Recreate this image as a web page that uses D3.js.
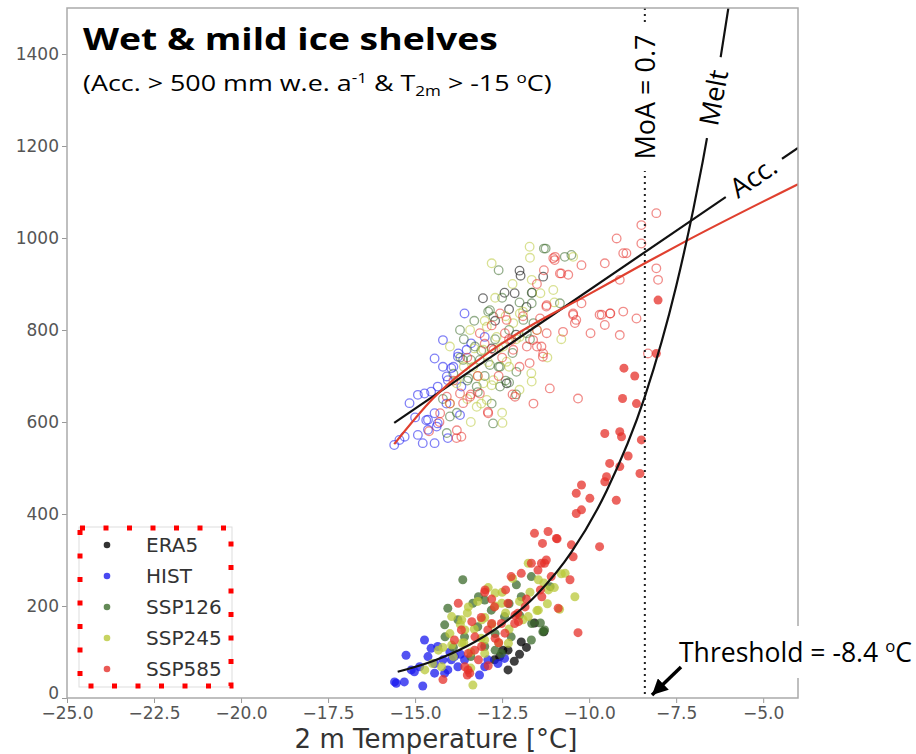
<!DOCTYPE html>
<html>
<head>
<meta charset="utf-8">
<script src="https://cdn.jsdelivr.net/npm/d3@7"></script>
<style>
  body { margin: 0; background: #fff; }
  svg { display: block; }
</style>
</head>
<body>
<svg id="chart" width="916" height="754"></svg>
<script>
// axis ticks
const xTicks = [-25, -22.5, -20, -17.5, -15, -12.5, -10, -7.5, -5];
const yTicks = [0, 200, 400, 600, 800, 1000, 1200, 1400];

// series names + colours
const seriesNames = ["ERA5", "HIST", "SSP126", "SSP245", "SSP585"];
const seriesColors = ["#000000", "#1a1aee", "#3c6b2c", "#b9c83a", "#e5302a"];

// [T2m, accumulation] (open circles)
const era5Acc = [[-13.05,869],[-12.43,881],[-12.14,880],[-12.0,929],[-11.97,918],[-11.64,881],[-12.3,845],[-12.7,820],[-12.8,760],[-12.1,790],[-11.8,850],[-11.32,916],[-12.37,684]];
const histAcc = [[-15.6,550],[-15.45,561],[-15.3,568],[-15.16,641],[-14.92,572],[-14.92,659],[-14.78,554],[-14.73,662],[-14.68,604],[-14.63,583],[-14.54,666],[-14.44,554],[-14.44,619],[-14.44,738],[-14.35,597],[-14.35,677],[-14.2,720],[-14.2,778],[-14.06,565],[-14.06,691],[-13.96,717],[-13.77,742],[-13.67,677],[-13.58,836],[-13.39,771],[-13.0,785],[-15.0,610],[-14.1,640],[-13.76,749],[-13.52,757],[-13.9,720],[-14.09,699],[-13.71,615],[-14.63,605],[-14.38,590]];
const ssp126Acc = [[-14.2,650],[-13.9,705],[-13.8,620],[-13.6,780],[-13.5,690],[-13.4,735],[-13.3,820],[-13.2,665],[-13.1,755],[-13.0,700],[-12.9,840],[-12.8,640],[-12.7,780],[-12.6,720],[-12.5,870],[-12.4,690],[-12.3,800],[-12.2,750],[-12.0,860],[-12.09,709],[-12.3,686],[-12.76,597],[-11.7,780],[-11.3,977],[-11.25,977],[-10.7,959],[-10.51,963],[-12.6,930],[-13.7,740],[-12.1,660],[-11.65,881],[-10.84,858],[-11.65,858],[-12.85,843],[-12.75,829],[-11.89,822],[-11.6,815],[-13.71,800],[-11.79,793],[-13.28,764],[-13.62,735],[-13.14,735],[-12.85,724],[-12.56,720],[-13.47,695],[-13.23,677],[-12.56,677],[-14.0,612],[-14.09,576]];
const ssp245Acc = [[-14.0,640],[-13.8,690],[-13.6,720],[-13.5,650],[-13.3,760],[-13.2,700],[-13.1,640],[-13.0,820],[-12.9,730],[-12.8,680],[-12.7,870],[-12.6,760],[-12.5,620],[-12.49,598],[-12.4,830],[-12.3,720],[-12.2,900],[-12.1,780],[-12.0,670],[-11.9,840],[-11.71,981],[-11.7,957],[-11.66,706],[-11.5,800],[-11.4,880],[-11.2,740],[-11.0,860],[-10.8,780],[-13.4,600],[-12.8,945],[-11.65,909],[-11.03,887],[-11.99,836],[-12.18,815],[-13.42,800],[-12.94,807],[-12.66,785],[-12.0,785],[-14.0,764],[-13.04,757],[-12.47,764],[-13.33,720],[-12.37,731],[-13.81,684],[-13.04,684],[-12.75,691],[-12.94,648],[-13.23,633],[-11.65,688],[-10.46,959]];
const ssp585Acc = [[-14.6,580],[-14.3,600],[-14.0,640],[-13.9,690],[-13.8,582],[-13.67,568],[-13.5,740],[-13.4,660],[-13.2,700],[-13.0,770],[-12.91,622],[-12.8,810],[-12.6,700],[-12.5,740],[-12.3,780],[-12.2,660],[-12.0,720],[-11.9,830],[-11.6,640],[-11.5,900],[-11.3,930],[-11.61,778],[-11.37,764],[-11.71,728],[-11.33,742],[-11.13,673],[-10.32,651],[-11.23,851],[-10.99,952],[-10.8,923],[-10.6,920],[-10.22,858],[-10.22,941],[-10.46,833],[-10.41,815],[-9.96,793],[-9.7,833],[-9.55,945],[-9.55,811],[-9.39,836],[-9.21,999],[-9.12,909],[-9.12,789],[-9.02,967],[-9.02,840],[-8.64,825],[-8.5,1028],[-8.5,988],[-8.31,749],[-8.07,1054],[-8.07,934],[-8.02,909],[-11.03,956],[-10.84,923],[-11.22,854],[-10.46,836],[-10.37,822],[-12.56,836],[-12.37,822],[-11.41,825],[-13.14,793],[-12.42,793],[-12.23,778],[-11.5,800],[-11.22,793],[-10.75,796],[-12.75,757],[-12.18,757],[-11.79,764],[-11.5,764],[-11.32,749],[-13.71,662],[-13.42,655],[-13.14,662],[-13.62,641],[-14.09,655],[-14.28,619],[-13.81,565],[-12.9,619],[-10.98,959],[-8.93,967],[-9.64,833],[-9.4,836],[-12.13,655]];

// [T2m, melt] (filled dots)
const era5Melt = [[-12.72,83],[-12.57,90],[-12.48,104],[-12.33,61],[-12.33,104],[-11.95,122],[-11.57,163],[-11.3,144],[-12.15,80],[-12.0,95],[-11.8,110]];
const histMelt = [[-15.59,35],[-15.54,32],[-15.31,35],[-15.26,93],[-15.11,61],[-15.02,57],[-14.87,68],[-14.78,26],[-14.73,126],[-14.63,90],[-14.54,108],[-14.44,54],[-14.44,75],[-14.35,112],[-14.2,83],[-14.15,54],[-14.06,61],[-13.96,83],[-13.87,90],[-13.77,68],[-13.58,83],[-13.15,50],[-13.0,68],[-12.91,83],[-12.62,75],[-12.43,86],[-14.0,100],[-13.7,95]];
const ssp126Melt = [[-14.15,159],[-14.06,195],[-13.77,170],[-13.63,257],[-13.58,133],[-13.34,206],[-13.2,155],[-13.0,213],[-13.0,112],[-12.81,191],[-12.52,97],[-12.43,177],[-12.24,133],[-12.09,246],[-11.95,220],[-11.66,264],[-11.66,126],[-11.4,163],[-11.33,144],[-11.28,148],[-13.9,110],[-12.7,140],[-12.3,205],[-13.4,90],[-12.0,180],[-11.12,242],[-11.65,162],[-13.18,220],[-14.14,133],[-12.7,104]];
const ssp245Melt = [[-14.2,110],[-14.0,140],[-13.9,90],[-13.7,160],[-13.6,120],[-13.5,185],[-13.4,100],[-13.3,150],[-13.2,210],[-13.1,130],[-13.0,175],[-12.9,240],[-12.8,160],[-12.7,200],[-12.6,120],[-12.5,230],[-12.4,185],[-12.3,150],[-12.2,260],[-12.0,210],[-11.9,170],[-11.7,230],[-11.5,190],[-11.3,250],[-11.2,205],[-11.0,240],[-10.8,270],[-13.34,28],[-13.4,65],[-14.5,75],[-10.85,193],[-11.75,293],[-11.46,257],[-11.17,235],[-10.69,271],[-11.46,191],[-11.75,177],[-12.51,206],[-12.7,228],[-13.47,198],[-13.95,177],[-13.66,170],[-13.08,170],[-13.57,148],[-13.95,115],[-14.33,104],[-13.66,119],[-13.0,126],[-12.32,119],[-13.0,97],[-14.24,68],[-14.72,61],[-10.41,220]];
const ssp585Melt = [[-14.2,40],[-13.87,126],[-13.67,148],[-13.5,50],[-13.48,61],[-13.29,104],[-13.1,175],[-12.91,148],[-12.8,215],[-12.72,198],[-12.6,120],[-12.52,162],[-12.4,235],[-12.33,206],[-12.24,264],[-12.14,162],[-12.05,184],[-11.95,271],[-11.8,215],[-11.66,293],[-11.47,278],[-11.4,235],[-11.37,293],[-11.28,293],[-11.23,300],[-11.09,264],[-10.94,347],[-11.18,362],[-11.57,358],[-11.34,336],[-10.92,346],[-10.51,333],[-10.46,307],[-10.37,401],[-10.37,445],[-10.32,142],[-10.22,409],[-10.22,463],[-9.98,434],[-9.7,329],[-9.55,470],[-9.55,575],[-9.5,481],[-9.41,510],[-9.22,430],[-9.12,503],[-9.12,579],[-9.07,568],[-9.04,651],[-9.0,717],[-8.88,526],[-8.69,700],[-8.64,640],[-8.54,488],[-8.5,561],[-8.07,749],[-8.02,865],[-12.9,70],[-13.0,230],[-10.89,195],[-12.03,166],[-12.13,180],[-12.99,235],[-13.76,206],[-13.37,166],[-12.8,162],[-13.28,133],[-12.7,130],[-12.42,141],[-13.47,97],[-13.18,83],[-13.57,68],[-13.43,54],[-13.09,112],[-11.84,198],[-11.36,220],[-10.55,257]];

// fitted curves
const accFit = [[-15.6,598],[-4,1196]];
const accFitSsp585 = [[-15.6,552],[-14.5,650],[-13,745],[-12,795],[-10,878],[-8.4,945],[-7.3,990],[-4,1117]];
const meltFit = [[-15.5,57],[-14.5,80],[-13.5,113],[-12.5,160],[-11.5,225],[-10.5,318],[-9.5,450],[-8.4,655],[-7.5,895],[-7,1065],[-6.5,1265],[-6,1500]];
const threshold = -8.4;

const accSets = [era5Acc, histAcc, ssp126Acc, ssp245Acc, ssp585Acc];
const meltSets = [era5Melt, histMelt, ssp126Melt, ssp245Melt, ssp585Melt];

const svg = d3.select("#chart");
const pl = 67, pr = 798, pt = 8, pb = 698;

const x = d3.scaleLinear().domain([-25, -4]).range([pl, pr]);
const y = d3.scaleLinear().domain([0, 1500]).range([pb, pt]);

const defs = svg.append("defs");
defs.append("clipPath").attr("id", "clip")
  .append("rect").attr("x", pl).attr("y", pt).attr("width", pr - pl).attr("height", pb - pt);

// stretch a text horizontally to a given width (the figure's fonts run wide)
function fitWidth(sel, x0, w) {
  const bw = sel.node().getBBox().width;
  sel.attr("transform", "translate(" + x0 + ",0) scale(" + (w / bw) + ",1) translate(" + (-x0) + ",0)");
}

// axes
const xAxis = svg.append("g")
  .attr("transform", "translate(0," + pb + ")")
  .call(d3.axisBottom(x).tickValues(xTicks).tickFormat(d3.format(".1f")).tickSize(5).tickPadding(4).tickSizeOuter(0));
const yAxis = svg.append("g")
  .attr("transform", "translate(" + pl + ",0)")
  .call(d3.axisLeft(y).tickValues(yTicks).tickFormat(d3.format("d")).tickSize(5).tickPadding(3).tickSizeOuter(0));
[xAxis, yAxis].forEach(a => {
  a.select(".domain").remove();
  a.selectAll(".tick line").attr("stroke", "#999");
  a.selectAll(".tick text").attr("fill", "#555").style("font", "17px 'DejaVu Sans'");
});
// keep the "0" clear of the first x label
yAxis.selectAll(".tick text").filter(d => d === 0).attr("dy", "0em");

svg.append("text")
  .attr("x", 436).attr("y", 748)
  .attr("text-anchor", "middle")
  .style("font", "26px 'DejaVu Sans'").attr("fill", "#333")
  .text("2 m Temperature [°C]");

const plot = svg.append("g").attr("clip-path", "url(#clip)");

// scatter: open circles for accumulation, dots for melt
accSets.forEach((pts, i) => {
  plot.append("g").selectAll("circle")
    .data(pts).enter().append("circle")
    .attr("cx", d => x(d[0])).attr("cy", d => y(d[1])).attr("r", 4.3)
    .attr("fill", "none").attr("stroke", seriesColors[i])
    .attr("stroke-width", 1.3).attr("stroke-opacity", 0.55);
});
meltSets.forEach((pts, i) => {
  plot.append("g").selectAll("circle")
    .data(pts).enter().append("circle")
    .attr("cx", d => x(d[0])).attr("cy", d => y(d[1])).attr("r", 4.5)
    .attr("fill", seriesColors[i]).attr("fill-opacity", 0.75);
});

// threshold line
plot.append("line")
  .attr("x1", x(threshold)).attr("x2", x(threshold)).attr("y1", pt).attr("y2", pb)
  .attr("stroke", "#222").attr("stroke-width", 2).attr("stroke-dasharray", "2,4");

const line = d3.line().x(d => x(d[0])).y(d => y(d[1])).curve(d3.curveMonotoneX);
plot.append("path").datum(accFit).attr("d", line)
  .attr("fill", "none").attr("stroke", "#111").attr("stroke-width", 2.2);
plot.append("path").datum(accFitSsp585).attr("d", line)
  .attr("fill", "none").attr("stroke", "#e0402f").attr("stroke-width", 2.2);
plot.append("path").datum(meltFit).attr("d", line)
  .attr("fill", "none").attr("stroke", "#111").attr("stroke-width", 2.2);

// inline labels with white boxes
function boxLabel(cx, cy, angle, txt, w, h, size) {
  const g = svg.append("g").attr("transform", "translate(" + cx + "," + cy + ") rotate(" + angle + ")");
  g.append("rect").attr("x", -w / 2).attr("y", -h / 2).attr("width", w).attr("height", h).attr("fill", "#fff");
  g.append("text").attr("text-anchor", "middle").attr("dy", "0.35em")
    .style("font", size + "px 'Open Sans'").attr("fill", "#000").text(txt);
}
boxLabel(x(threshold) + 1, 97, -90, "MoA = 0.7", 148, 30, 27);
boxLabel(x(-6.42), y(1305), -79, "Melt", 82, 30, 27);
boxLabel(x(-5.28), y(1132), -34, "Acc.", 68, 32, 27);

// frame
svg.append("rect").attr("x", pl).attr("y", pt).attr("width", pr - pl).attr("height", pb - pt)
  .attr("fill", "none").attr("stroke", "#aaa").attr("stroke-width", 1.5);

// title
const title = svg.append("text").attr("x", 83).attr("y", 50)
  .style("font", "bold 30px 'Open Sans'").attr("fill", "#000")
  .text("Wet & mild ice shelves");
fitWidth(title, 83, 415);
const sub = svg.append("text").attr("x", 83).attr("y", 91)
  .style("font", "22px 'Open Sans'").attr("fill", "#000");
sub.append("tspan").text("(Acc. > 500 mm w.e. a");
sub.append("tspan").attr("dy", -8).style("font-size", "14px").text("-1");
sub.append("tspan").attr("dy", 8).text(" & T");
sub.append("tspan").attr("dy", 5).style("font-size", "14px").text("2m");
sub.append("tspan").attr("dy", -5).text(" > -15 ");
sub.append("tspan").attr("dy", -8).style("font-size", "14px").text("o");
sub.append("tspan").attr("dy", 8).text("C)");
fitWidth(sub, 83, 469);

// threshold annotation
svg.append("rect").attr("x", 674).attr("y", 626).attr("width", 242).attr("height", 52).attr("fill", "#fff");
const thr = svg.append("text").attr("x", 679).attr("y", 662)
  .style("font", "27px 'Open Sans'").attr("fill", "#000");
thr.append("tspan").text("Threshold = -8.4 ");
thr.append("tspan").attr("dy", -10).style("font-size", "17px").text("o");
thr.append("tspan").attr("dy", 10).text("C");
fitWidth(thr, 679, 233);

defs.append("marker").attr("id", "arrow")
  .attr("viewBox", "0 0 10 10").attr("refX", 10).attr("refY", 5)
  .attr("markerWidth", 4.5).attr("markerHeight", 4.5).attr("orient", "auto")
  .append("path").attr("d", "M0,0 L10,5 L0,10 z").attr("fill", "#000");
svg.append("line").attr("x1", 681).attr("y1", 667).attr("x2", 652).attr("y2", 695)
  .attr("stroke", "#000").attr("stroke-width", 3.5).attr("marker-end", "url(#arrow)");

// legend
const lg = svg.append("g");
lg.append("rect").attr("x", 79).attr("y", 527).attr("width", 153).attr("height", 160)
  .attr("fill", "#fff").attr("stroke", "#ddd").attr("stroke-width", 1);
lg.append("rect").attr("x", 80).attr("y", 528).attr("width", 151).attr("height", 158)
  .attr("fill", "none").attr("stroke", "#ff0000").attr("stroke-width", 5).attr("stroke-dasharray", "5,18.5");
seriesNames.forEach((n, i) => {
  const yy = 545 + i * 31;
  lg.append("circle").attr("cx", 107).attr("cy", yy).attr("r", 3.3).attr("fill", seriesColors[i]).attr("fill-opacity", 0.8);
  lg.append("text").attr("x", 146).attr("y", yy).attr("dy", "0.35em")
    .style("font", "20px 'DejaVu Sans'").attr("fill", "#333").text(n);
});
</script>
</body>
</html>
